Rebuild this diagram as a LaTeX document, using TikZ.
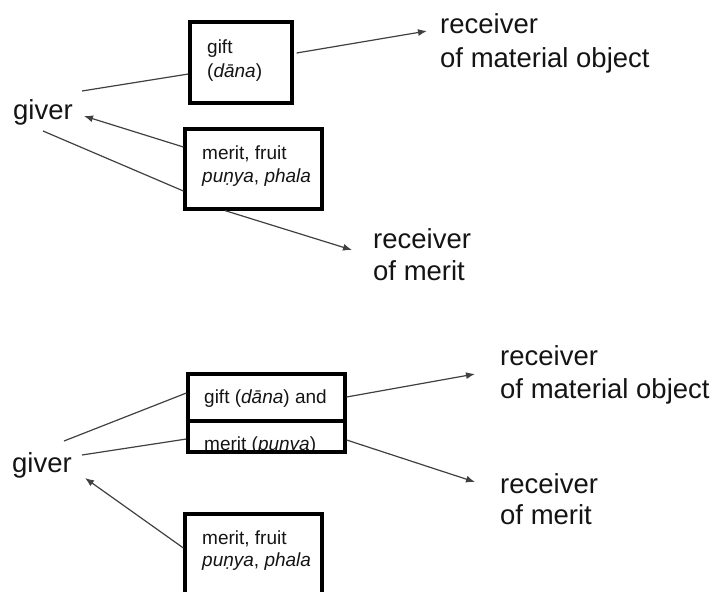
\documentclass[tikz,border=0pt]{standalone}
\usepackage{fontspec}
\setmainfont{Liberation Sans}
\usetikzlibrary{arrows.meta}

\begin{document}
\begin{tikzpicture}[x=1pt,y=-1pt]
\tikzset{
  box/.style={draw=black, line width=3.2pt, inner sep=0pt},
  big/.style={font=\fontsize{27.5}{33}\selectfont, inner sep=0pt, anchor=base west, text=black!92},
  small/.style={font=\fontsize{19}{22}\selectfont, inner sep=0pt, anchor=base west, text=black!92},
  conn/.style={draw=black!75, line width=1.2pt},
  arr/.style={conn, -{Latex[length=9pt,width=7pt]}}
}
\useasboundingbox (0,0) rectangle (713,592);
\clip (0,0) rectangle (713,592);

% ---------- upper scheme ----------
\node[big] (giverA) at (13,119) {giver};
\node[big] (recMatA) at (440,33) {receiver};
\node[big] (recMatA2) at (440,67) {of material object};
\node[big] (recMerA) at (373,248) {receiver};
\node[big] (recMerA2) at (373,280) {of merit};

\node[box, minimum width=102pt, minimum height=81pt] (giftA) at (241,62.5) {};
\node[small] (giftAt1) at (207,53) {gift};
\node[small] (giftAt2) at (207,77) {(\textit{dāna})};

\node[box, minimum width=137pt, minimum height=80pt] (meritA) at (253.5,169) {};
\node[small] (meritAt1) at (202,159) {merit, fruit};
\node[small] (meritAt2) at (202,182) {\textit{puṇya}, \textit{phala}};

\coordinate (gA1) at (82,91);
\coordinate (gA2) at (84,116);
\coordinate (gA3) at (43,131);
\coordinate (tipMatA) at (427,31);
\coordinate (tipMerA) at (352,250);

\draw[conn] (gA1) -- ([yshift=-11.5pt]giftA.west);
\draw[arr] ([xshift=3pt,yshift=9.5pt]giftA.east) -- (tipMatA);
\draw[arr] ([yshift=22pt]meritA.west) -- (gA2);
\draw[conn] (gA3) -- ([yshift=-22pt]meritA.west);
\draw[arr] ([xshift=-28.5pt]meritA.south) -- (tipMerA);

% ---------- lower scheme ----------
\node[big] (giverB) at (12,472) {giver};
\node[big] (recMatB) at (500,365) {receiver};
\node[big] (recMatB2) at (500,398) {of material object};
\node[big] (recMerB) at (500,493) {receiver};
\node[big] (recMerB2) at (500,524) {of merit};

\node[small] (combTopT) at (204,403) {gift (\textit{dāna}) and};
\begin{scope}
  \clip (188,421) rectangle (345,452.5);
  \node[small] (combBotT) at (204,450) {merit (\textit{puṇya})};
\end{scope}
\node[box, minimum width=157pt, minimum height=47pt] (combTop) at (266.5,397.5) {};
\node[box, minimum width=157pt, minimum height=31pt] (combBot) at (266.5,436.5) {};

\node[box, minimum width=137pt, minimum height=86pt] (meritB) at (253.5,557) {};
\node[small] (meritBt1) at (202,544) {merit, fruit};
\node[small] (meritBt2) at (202,566) {\textit{puṇya}, \textit{phala}};

\coordinate (gB1) at (64,441);
\coordinate (gB2) at (82,455);
\coordinate (gB3) at (85,478);
\coordinate (tipMatB) at (475,374);
\coordinate (tipMerB) at (475,482);

\draw[conn] (gB1) -- ([yshift=4.5pt]combTop.west);
\draw[conn] (gB2) -- ([yshift=-2.5pt]combBot.west);
\draw[arr] ([yshift=9pt]meritB.west) -- (gB3);
\draw[arr] ([yshift=0.5pt]combTop.east) -- (tipMatB);
\draw[arr] ([yshift=-3.5pt]combBot.east) -- (tipMerB);
\end{tikzpicture}
\end{document}
